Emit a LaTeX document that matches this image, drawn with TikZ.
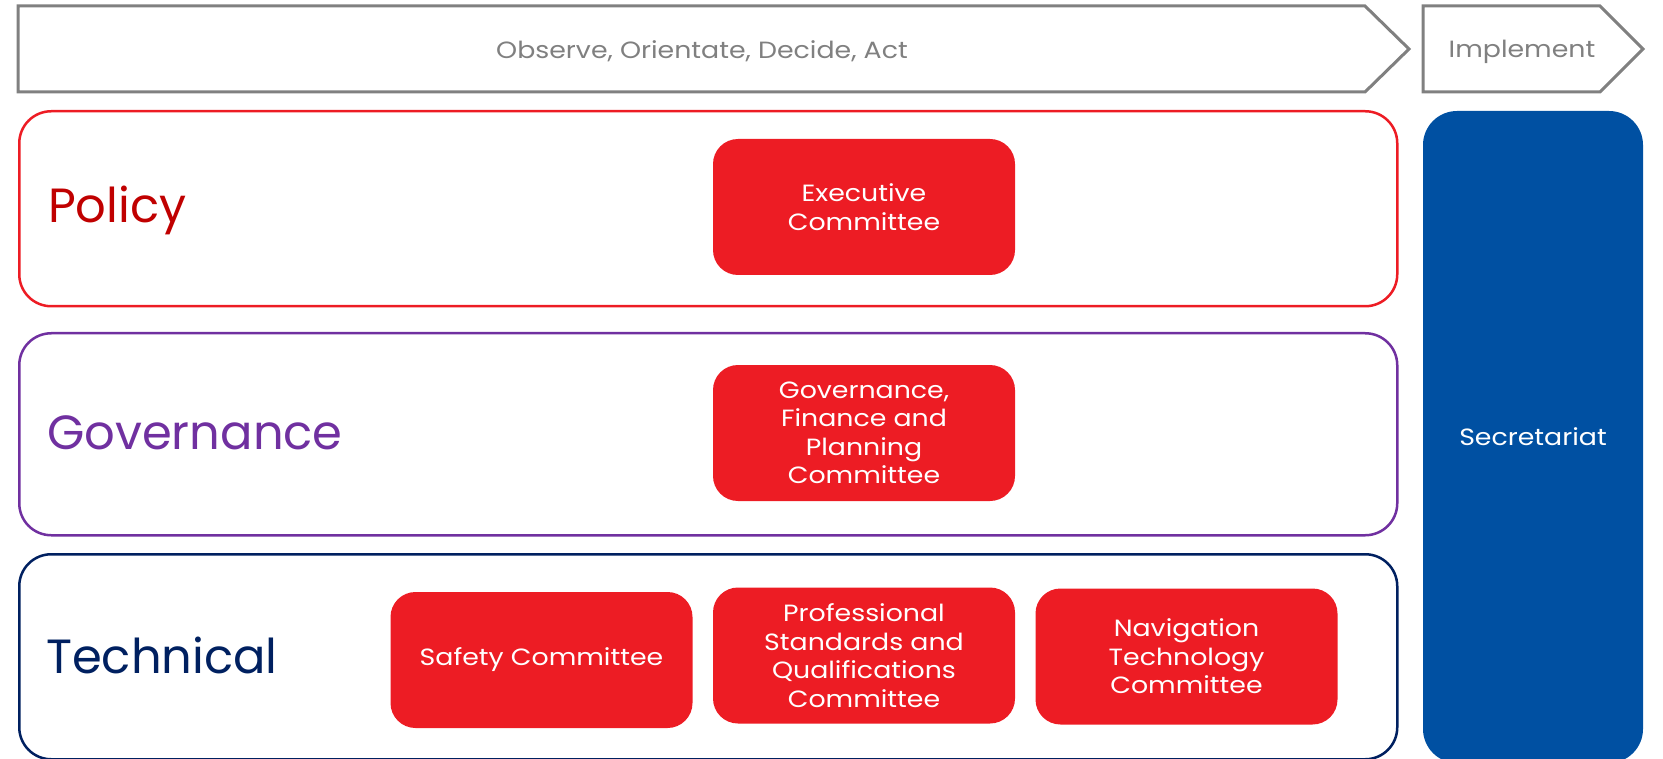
\documentclass[tikz,border=0pt]{standalone}
\usepackage{fontspec}
\setmainfont{Poppins}
\newfontfamily\widefont[FakeStretch=1.14]{Poppins}
\definecolor{cred}{HTML}{ED1C24}
\definecolor{polred}{HTML}{C00000}
\definecolor{govpurple}{HTML}{7030A0}
\definecolor{technavy}{HTML}{002060}
\definecolor{secblue}{HTML}{0050A2}
\definecolor{arrgray}{HTML}{808080}
\begin{document}
\begin{tikzpicture}[x=1pt,y=-1pt,
  smallfont/.style={font=\widefont\fontsize{23.5}{28.5}\selectfont},
  band/.style={draw=#1, line width=2.5pt, rounded corners=32pt, minimum width=1378pt, anchor=north west, inner sep=0pt},
  comm/.style={fill=cred, rounded corners=25pt, minimum width=302pt, minimum height=136pt, text=white, align=center, smallfont, inner sep=0pt},
  bandlabel/.style={anchor=west, text=#1, font=\fontsize{48}{55}\selectfont, inner sep=0pt},
  arrowbox/.style={draw=arrgray, line width=3pt, fill=white},
  arrowtext/.style={text=arrgray, smallfont, inner sep=0pt}
]
\useasboundingbox (0,0) rectangle (1663,759);
% top arrows
\draw[arrowbox] (18,6) -- (1365,6) -- (1409,49) -- (1365,92) -- (18,92) -- cycle;
\node[arrowtext] (ooda) at (702,51.5) {Observe, Orientate, Decide, Act};
\draw[arrowbox] (1423,6) -- (1600,6) -- (1643,49) -- (1600,92) -- (1423,92) -- cycle;
\node[arrowtext] (impl) at (1522,51.5) {Implement};
% bands
\node[band=cred, minimum height=195pt] (policy) at (18,110) {};
\node[band=govpurple, minimum height=202pt] (gov) at (18,332) {};
\node[band=technavy, minimum height=205pt] (tech) at (18,553) {};
\node[bandlabel=polred] (policyl) at (48,210) {Policy};
\node[bandlabel=govpurple] (govl) at (47,433) {Governance};
\node[bandlabel=technavy] (techl) at (46,655) {Technical};
% secretariat
\node[fill=secblue, rounded corners=34pt, minimum width=220pt, minimum height=652pt, text=white, smallfont, inner sep=0pt] (sec) at (1533,437) {Secretariat};
% committees
\node[comm] (exec) at (864,207) {Executive\\Committee};
\node[comm] (gfp) at (864,433) {Governance,\\Finance and\\Planning\\Committee};
\node[comm] (safety) at (541.5,660) {Safety Committee};
\node[comm] (psq) at (864,655.5) {Professional\\Standards and\\Qualifications\\Committee};
\node[comm] (nav) at (1186.5,656.5) {Navigation\\Technology\\Committee};
\end{tikzpicture}
\end{document}
